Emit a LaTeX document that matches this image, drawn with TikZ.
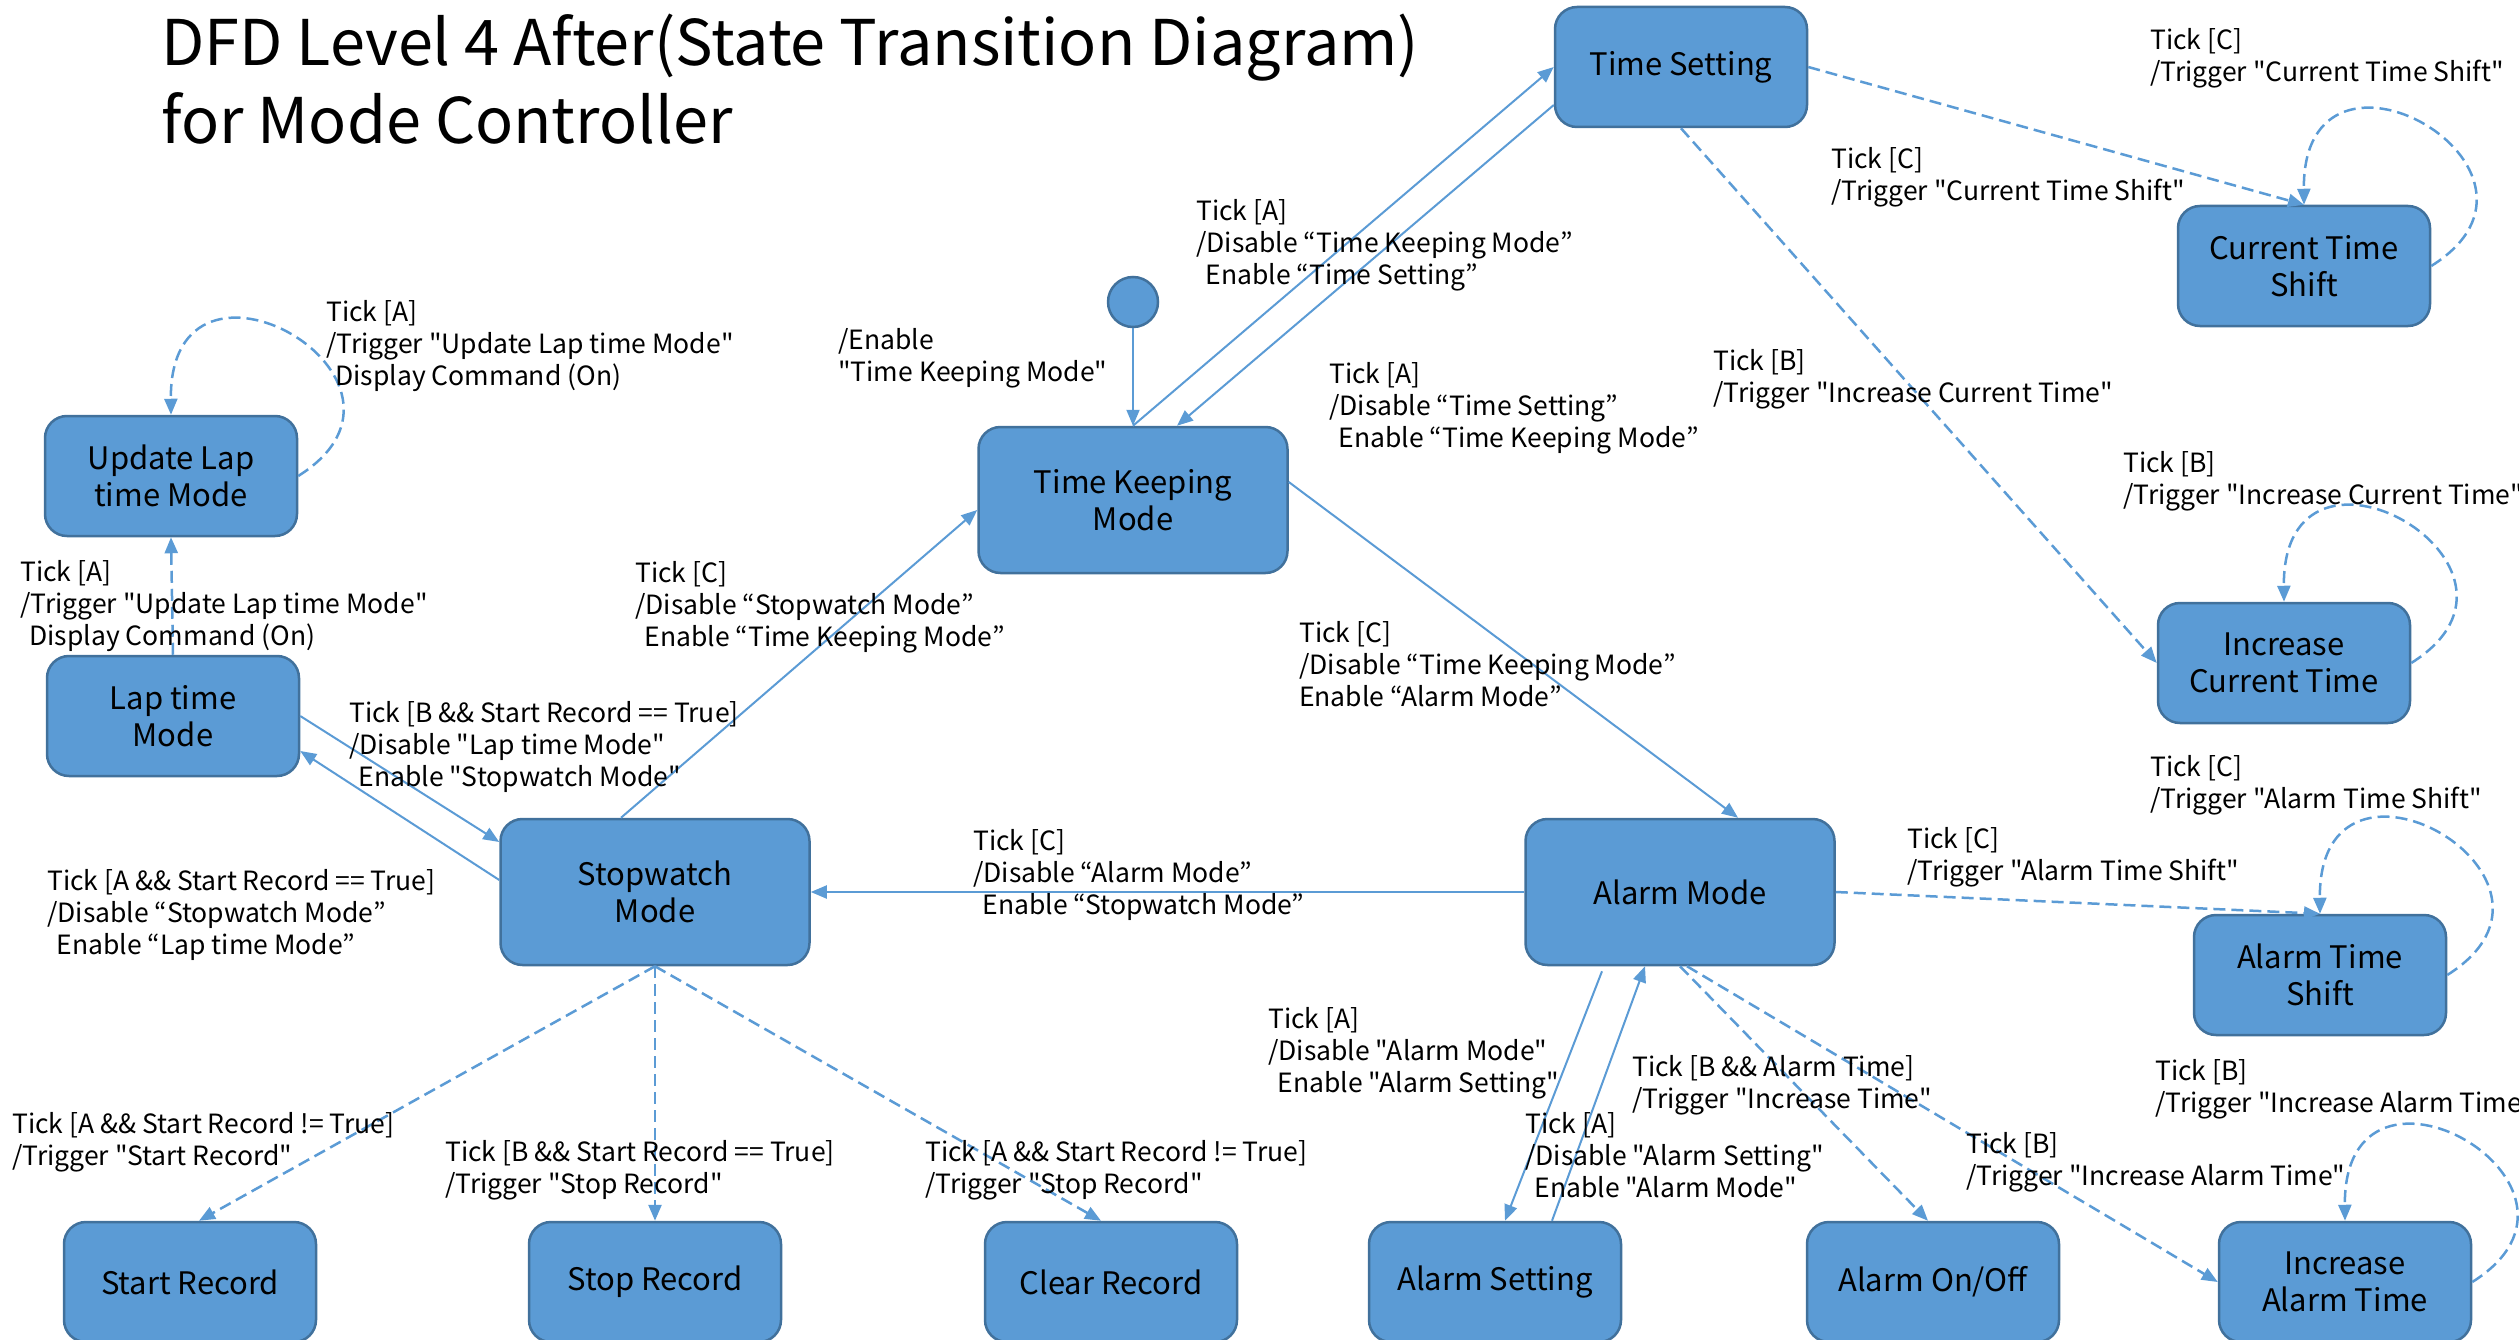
\documentclass[tikz,border=0pt]{standalone}
\usepackage{fontspec}
\setmainfont{Noto Sans CJK KR}[Ligatures=TeXOff]
\usepackage{xcolor}
\usepackage{tikz}
\usetikzlibrary{arrows.meta}
\usetikzlibrary{calc}
\definecolor{stateblue}{HTML}{5B9BD5}
\definecolor{stateedge}{HTML}{41719C}

\begin{document}
\begin{tikzpicture}[
        x=1pt, y=-1pt,
        state/.style={rectangle, rounded corners=22pt, minimum width=252pt, minimum height=120pt, align=center, inner sep=0pt, draw=stateedge, line width=2.5pt, fill=stateblue, font=\fontsize{31}{37}\selectfont},
        bigstate/.style={state, minimum width=309pt, minimum height=146pt},
        initial/.style={circle, minimum size=50pt, inner sep=0pt, draw=stateedge, line width=2.5pt, fill=stateblue},
        guard/.style={anchor=north west, align=left, inner sep=0pt, yshift=-2pt, font=\fontsize{26.5}{32}\selectfont},
        arrow/.style={draw=stateblue, line width=2pt, -{Triangle[length=16pt, width=13pt]}},
        dasharrow/.style={arrow, line width=2.5pt, dash pattern=on 12pt off 6pt}
    ]
        \useasboundingbox (0,0) rectangle (2519,1340);

        % ===== 标题 =====
        \node (title) [anchor=north west, align=left, inner sep=0pt, font=\fontsize{63}{78}\selectfont] at (161,14) {DFD Level 4 After(State Transition Diagram)\\for Mode Controller};

        % ===== 状态 =====
        \node (init) [initial] at (1133,302) {};
        \node (tk) [bigstate] at (1133,500) {Time Keeping\\Mode};
        \node (ts) [state] at (1681,67) {Time Setting};
        \node (cts) [state] at (2304,266) {Current Time\\Shift};
        \node (ict) [state] at (2284,663) {Increase\\Current Time};
        \node (ul) [state] at (171,476) {Update Lap\\time Mode};
        \node (lt) [state] at (173,716) {Lap time\\Mode};
        \node (sw) [bigstate] at (655,892) {Stopwatch\\Mode};
        \node (am) [bigstate] at (1680,892) {Alarm Mode};
        \node (ats) [state] at (2320,975) {Alarm Time\\Shift};
        \node (sr) [state] at (190,1282) {Start Record};
        \node (stopr) [state] at (655,1282) {Stop Record};
        \node (cr) [state] at (1111,1282) {Clear Record};
        \node (as) [state] at (1495,1282) {Alarm Setting};
        \node (ao) [state] at (1933,1282) {Alarm On/Off};
        \node (iat) [state] at (2345,1282) {Increase\\Alarm Time};

        % ===== 箭头连接 =====
        \draw [arrow] (init) -- (tk.north);
        \draw [arrow] (tk.north) -- (ts.west);
        \draw [arrow] ([yshift=-38pt]ts.west) -- ([xshift=44pt]tk.north);
        \draw [arrow] ([yshift=18pt]tk.east) -- ([xshift=58pt]am.north);
        \draw [arrow] (am.west) -- (sw.east);
        \draw [arrow] ([xshift=-34pt]sw.north) -- ([yshift=-10pt]tk.west);
        \draw [arrow] (lt.east) -- ([yshift=50pt]sw.west);
        \draw [arrow] ([yshift=12pt]sw.west) -- ([yshift=-35pt]lt.east);
        \draw [arrow] ([xshift=-78pt,yshift=-5pt]am.south) -- ([xshift=10pt]as.north);
        \draw [arrow] ([xshift=57pt]as.north) -- ([xshift=-35pt]am.south);

        \draw [dasharrow] (lt.north) -- (ul.south);
        \draw [dasharrow] (sw.south) -- ([xshift=9pt]sr.north);
        \draw [dasharrow] (sw.south) -- (stopr.north);
        \draw [dasharrow] (sw.south) -- ([xshift=-10pt]cr.north);
        \draw [dasharrow] (am.south) -- ([xshift=-5pt]ao.north);
        \draw [dasharrow] ([xshift=7pt]am.south) -- (iat.west);
        \draw [dasharrow] (am.east) -- (ats.north);
        \draw [dasharrow] (ts.east) -- (cts.north);
        \draw [dasharrow] (ts.south) -- (ict.west);

        % ===== 自循环 =====
        \foreach \s in {ul, cts, ict, ats, iat}
            \draw [dasharrow] (\s.east) .. controls +(153,-96) and +(-2,-196) .. (\s.north);

        % ===== 转换条件 =====
        \node (gInit) [guard] at (838,326) {/Enable\\"Time Keeping Mode"};
        \node (gTkTs) [guard] at (1196,197) {Tick [A]\\/Disable “Time Keeping Mode”\\\hspace{0.35em}Enable “Time Setting”};
        \node (gTsTk) [guard] at (1329,360) {Tick [A]\\/Disable “Time Setting”\\\hspace{0.35em}Enable “Time Keeping Mode”};
        \node (gTkAm) [guard] at (1299,619) {Tick [C]\\/Disable “Time Keeping Mode”\\Enable “Alarm Mode”};
        \node (gAmSw) [guard] at (973,827) {Tick [C]\\/Disable “Alarm Mode”\\\hspace{0.35em}Enable “Stopwatch Mode”};
        \node (gSwTk) [guard] at (635,559) {Tick [C]\\/Disable “Stopwatch Mode”\\\hspace{0.35em}Enable “Time Keeping Mode”};
        \node (gLtSw) [guard] at (349,699) {Tick [B \&\& Start Record == True]\\/Disable "Lap time Mode"\\\hspace{0.35em}Enable "Stopwatch Mode"};
        \node (gSwLt) [guard] at (47,867) {Tick [A \&\& Start Record == True]\\/Disable “Stopwatch Mode”\\\hspace{0.35em}Enable “Lap time Mode”};
        \node (gLtUl) [guard] at (20,558) {Tick [A]\\/Trigger "Update Lap time Mode"\\\hspace{0.35em}Display Command (On)};
        \node (gUl) [guard] at (326,298) {Tick [A]\\/Trigger "Update Lap time Mode"\\\hspace{0.35em}Display Command (On)};
        \node (gSr) [guard] at (12,1110) {Tick [A \&\& Start Record != True]\\/Trigger "Start Record"};
        \node (gStop) [guard] at (445,1138) {Tick [B \&\& Start Record == True]\\/Trigger "Stop Record"};
        \node (gCr) [guard] at (925,1138) {Tick [A \&\& Start Record != True]\\/Trigger "Stop Record"};
        \node (gAmAs) [guard] at (1268,1005) {Tick [A]\\/Disable "Alarm Mode"\\\hspace{0.35em}Enable "Alarm Setting"};
        \node (gAsAm) [guard] at (1525,1110) {Tick [A]\\/Disable "Alarm Setting"\\\hspace{0.35em}Enable "Alarm Mode"};
        \node (gAo) [guard] at (1632,1053) {Tick [B \&\& Alarm Time]\\/Trigger "Increase Time"};
        \node (gIat) [guard] at (1966,1130) {Tick [B]\\/Trigger "Increase Alarm Time"};
        \node (gAts) [guard] at (1907,825) {Tick [C]\\/Trigger "Alarm Time Shift"};
        \node (gAtsLoop) [guard] at (2150,753) {Tick [C]\\/Trigger "Alarm Time Shift"};
        \node (gIatLoop) [guard] at (2155,1057) {Tick [B]\\/Trigger "Increase Alarm Time"};
        \node (gCts) [guard] at (1831,145) {Tick [C]\\/Trigger "Current Time Shift"};
        \node (gCtsLoop) [guard] at (2150,26) {Tick [C]\\/Trigger "Current Time Shift"};
        \node (gIct) [guard] at (1713,347) {Tick [B]\\/Trigger "Increase Current Time"};
        \node (gIctLoop) [guard] at (2123,449) {Tick [B]\\/Trigger "Increase Current Time"};

    \end{tikzpicture}
\end{document}
